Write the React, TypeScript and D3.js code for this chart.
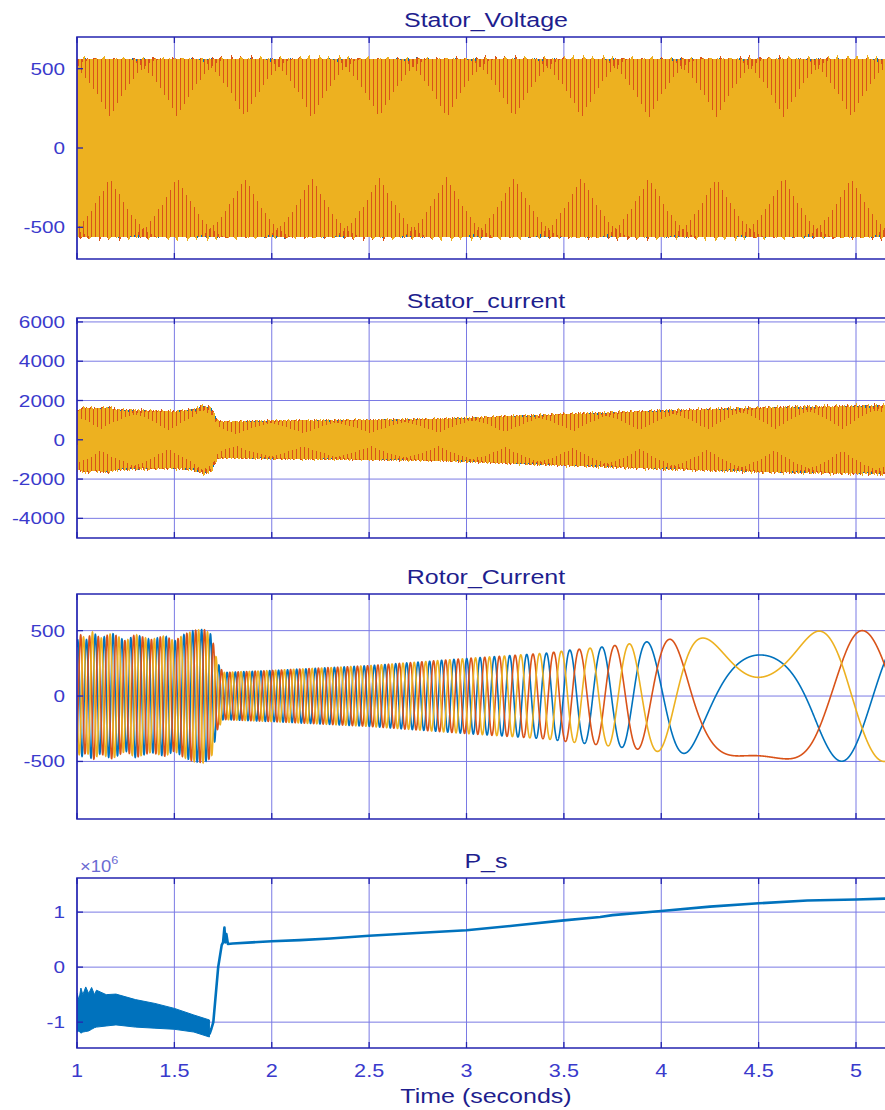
import { useEffect, useRef } from 'react';
import * as d3 from 'd3';

// time axis (seconds)
const xTicks = [1, 1.5, 2, 2.5, 3, 3.5, 4, 4.5, 5];
const tStart = 1;
const tEnd = 5.2;

// stator quantities: frequency as it shows on the scope trace (Hz)
const statorHz = 49.41;

// Stator_Voltage peak phase voltage, envelope knots (s, V)
const voltEnvT = [1, 5.2];
const voltEnvA = [563, 563];
const voltPeakT = 4.98203; // a yellow-phase peak
const voltTicks = [-500, 0, 500];

// Stator_current peak, envelope knots (s, A)
const curEnvT = [1.0, 1.04, 1.1, 1.16, 1.2, 1.3, 1.4, 1.5, 1.6, 1.65, 1.69, 1.72, 1.75, 2.0, 2.5, 2.86, 3.43, 4.0, 4.57, 5.2];
const curEnvA = [1450, 1600, 1520, 1600, 1480, 1450, 1420, 1400, 1480, 1680, 1550, 950, 880, 930, 970, 1020, 1230, 1430, 1590, 1690];
const curPeakT = 4.59692;
const curTicks = [-4000, -2000, 0, 2000, 4000, 6000];

// Rotor_Current peak, envelope knots (s, A)
const rotEnvT = [1.0, 1.02, 1.05, 1.08, 1.12, 1.18, 1.25, 1.3, 1.38, 1.45, 1.5, 1.55, 1.6, 1.65, 1.69, 1.72, 1.75, 2.0, 2.5, 3.0, 3.41, 3.53, 3.7, 3.93, 4.05, 4.21, 4.5, 4.8, 5.0, 5.2];
const rotEnvA = [420, 470, 430, 490, 440, 480, 420, 470, 430, 460, 420, 470, 500, 510, 470, 260, 180, 195, 232, 287, 328, 351, 376, 415, 435, 443, 467, 496, 500, 500];
// rotor (slip) frequency read from the peak spacing (s, Hz)
const rotFreqT = [1.0, 1.69, 1.72, 2.0, 2.5, 3.0, 3.2, 3.35, 3.47, 3.61, 3.81, 3.98, 4.13, 4.21, 4.5, 4.65, 4.8, 4.95, 5.2];
const rotFreqF = [22, 22, 24, 22, 19, 15, 12.5, 10, 8.4, 5.9, 4.4, 2.8, 2.0, 1.4, 0, -0.6, -1.3, -1.6, -1.4];
const rotBluePeakT = 3.925;
const rotTicks = [-500, 0, 500];

// P_s (x 1e6): oscillating band before the step, then the line
const psOscT = [1.0, 1.01, 1.02, 1.03, 1.045, 1.06, 1.075, 1.09, 1.1, 1.15, 1.2, 1.3, 1.4, 1.5, 1.6, 1.68];
const psOscHi = [-0.47, -0.6, -0.38, -0.5, -0.36, -0.48, -0.37, -0.5, -0.42, -0.5, -0.49, -0.59, -0.66, -0.75, -0.87, -0.96];
const psOscLo = [-1.18, -1.16, -1.2, -1.18, -1.17, -1.16, -1.13, -1.1, -1.09, -1.07, -1.05, -1.09, -1.11, -1.13, -1.18, -1.27];
const psT = [1.68, 1.69, 1.70, 1.725, 1.743, 1.75, 1.757, 1.762, 1.767, 1.775, 1.8, 1.9, 2.0, 2.145, 2.3, 2.5, 2.745, 3.0, 3.26, 3.5, 3.686, 3.75, 4.0, 4.25, 4.5, 4.75, 5.0, 5.2];
const psV = [-1.22, -1.12, -1.0, 0.0, 0.4, 0.45, 0.72, 0.45, 0.6, 0.42, 0.43, 0.45, 0.47, 0.49, 0.52, 0.57, 0.62, 0.67, 0.76, 0.85, 0.91, 0.945, 1.02, 1.10, 1.16, 1.21, 1.23, 1.25];
const psTicks = [-1, 0, 1];

const W = 885;
const H = 1110;
const FONT = "'Liberation Sans', Arial, Helvetica, sans-serif";
const BLUE = '#0072bd';
const ORANGE = '#d95319';
const YELLOW = '#edb120';
const AXIS = '#2424b0';
const GRID = '#7a7ae4';
const TICKTXT = '#3a3acc';
const TITLE = '#1e1e8e';

// three phase waveforms from envelope + frequency knots; phase `k0` peaks at refT
function threePhase(envT, envA, freqT, freqF, step, refT, k0) {
  const amp = d3.scaleLinear(envT, envA).clamp(true);
  const freq = d3.scaleLinear(freqT, freqF).clamp(true);
  const ts = d3.range(tStart, tEnd + step, step);
  const th = [0];
  for (let i = 1; i < ts.length; i++) {
    th.push(th[i - 1] + 2 * Math.PI * freq(ts[i] - step / 2) * step);
  }
  const off = th[d3.minIndex(ts, t => Math.abs(t - refT))] - (k0 * 2 * Math.PI) / 3;
  return [0, 1, 2].map(k => ts.map((t, i) => [t, amp(t) * Math.cos(th[i] - off - (k * 2 * Math.PI) / 3)]));
}

export default function App() {
  const svgRef = useRef(null);

  useEffect(() => {
    const svg = d3.select(svgRef.current);
    svg.selectAll('*').remove();

    const plotLeft = 77;
    const pxPerSec = 194.75;
    const plotRight = plotLeft + (tEnd - tStart) * pxPerSec;
    const x = d3.scaleLinear([tStart, tEnd], [plotLeft, plotRight]);

    const text = (g, tx, ty, str, size, color, anchor, sx = 1.22) => {
      const t = g.append('g').attr('transform', `translate(${tx},${ty}) scale(${sx},1)`)
        .append('text')
        .attr('text-anchor', anchor)
        .attr('font-family', FONT)
        .attr('font-size', size)
        .attr('fill', color);
      t.text(str);
      return t;
    };

    const voltage = threePhase(voltEnvT, voltEnvA, [tStart, tEnd], [statorHz, statorHz], 0.0004, voltPeakT, 2);
    const current = threePhase(curEnvT, curEnvA, [tStart, tEnd], [statorHz, statorHz], 0.0004, curPeakT, 2);
    const rotor = threePhase(rotEnvT, rotEnvA, rotFreqT, rotFreqF, 0.0005, rotBluePeakT, 0);

    // stroke widths per phase (blue, orange, yellow)
    const crispW = [1.1, 2.2, 2.4];
    const smoothW = [1.6, 1.6, 1.6];

    const panels = [
      { title: 'Stator_Voltage', top: 37, bottom: 259, domain: [-700, 700], ticks: voltTicks, phases: voltage, crisp: true },
      { title: 'Stator_current', top: 318, bottom: 538, domain: [-5000, 6200], ticks: curTicks, phases: current, crisp: true },
      { title: 'Rotor_Current', top: 594, bottom: 819, domain: [-940, 780], ticks: rotTicks, phases: rotor, crisp: false },
      { title: 'P_s', top: 878, bottom: 1048, domain: [-1.47, 1.62], ticks: psTicks, phases: null },
    ];

    const defs = svg.append('defs');

    panels.forEach((p, i) => {
      const y = d3.scaleLinear(p.domain, [p.bottom, p.top]);
      const g = svg.append('g');

      defs.append('clipPath').attr('id', `clip${i}`)
        .append('rect')
        .attr('x', plotLeft).attr('y', p.top)
        .attr('width', plotRight - plotLeft).attr('height', p.bottom - p.top);

      // grid
      g.append('g').selectAll('line').data(xTicks).join('line')
        .attr('x1', d => x(d)).attr('x2', d => x(d))
        .attr('y1', p.top).attr('y2', p.bottom)
        .attr('stroke', GRID).attr('stroke-width', 1);
      g.append('g').selectAll('line').data(p.ticks).join('line')
        .attr('x1', plotLeft).attr('x2', plotRight)
        .attr('y1', d => y(d)).attr('y2', d => y(d))
        .attr('stroke', GRID).attr('stroke-width', 1);

      // data
      const data = g.append('g').attr('clip-path', `url(#clip${i})`);
      const line = d3.line().x(d => x(d[0])).y(d => y(d[1]));
      if (p.phases) {
        [BLUE, ORANGE, YELLOW].forEach((c, k) => {
          data.append('path')
            .attr('d', line(p.phases[k]))
            .attr('fill', 'none')
            .attr('stroke', c)
            .attr('stroke-width', p.crisp ? crispW[k] : smoothW[k])
            .attr('shape-rendering', p.crisp ? 'crispEdges' : 'auto');
        });
      } else {
        const band = d3.area()
          .x((d, j) => x(psOscT[j]))
          .y0((d, j) => y(psOscLo[j]))
          .y1((d, j) => y(psOscHi[j]));
        data.append('path')
          .attr('d', band(psOscT))
          .attr('fill', BLUE)
          .attr('stroke', BLUE)
          .attr('stroke-width', 1);
        data.append('path')
          .attr('d', line(psT.map((t, j) => [t, psV[j]])))
          .attr('fill', 'none')
          .attr('stroke', BLUE)
          .attr('stroke-width', 2.6)
          .attr('stroke-linejoin', 'round');
      }

      // frame
      g.append('path')
        .attr('d', `M${plotRight},${p.top}H${plotLeft}V${p.bottom}H${plotRight}`)
        .attr('fill', 'none')
        .attr('stroke', AXIS)
        .attr('stroke-width', 1.6);

      // ticks
      g.append('g').selectAll('path').data(xTicks).join('path')
        .attr('d', d => `M${x(d)},${p.top}v6M${x(d)},${p.bottom}v-6`)
        .attr('stroke', AXIS).attr('stroke-width', 1.3);
      g.append('g').selectAll('path').data(p.ticks).join('path')
        .attr('d', d => `M${plotLeft},${y(d)}h6`)
        .attr('stroke', AXIS).attr('stroke-width', 1.3);

      // y tick labels
      p.ticks.forEach(d => {
        text(g, 65, y(d) + 6, String(d), 17, TICKTXT, 'end');
      });

      // title
      text(g, (plotLeft + plotRight) / 2, p.top - 10, p.title, 20, TITLE, 'middle', 1.25);

      if (i === panels.length - 1) {
        xTicks.forEach(d => {
          text(g, x(d), 1077, String(d), 18, TICKTXT, 'middle', 1.2);
        });
        text(g, (plotLeft + plotRight) / 2, 1103, 'Time (seconds)', 20, TITLE, 'middle', 1.25);
        const e = text(g, 80, 872, '\u00d710', 16, '#6a6ad2', 'start', 1.15);
        e.append('tspan').attr('font-size', 11).attr('dy', -8).text('6');
      }
    });
  }, []);

  return (
    <svg
      ref={svgRef}
      width={W}
      height={H}
      style={{ position: 'absolute', left: 0, top: 0, background: '#ffffff' }}
    />
  );
}
